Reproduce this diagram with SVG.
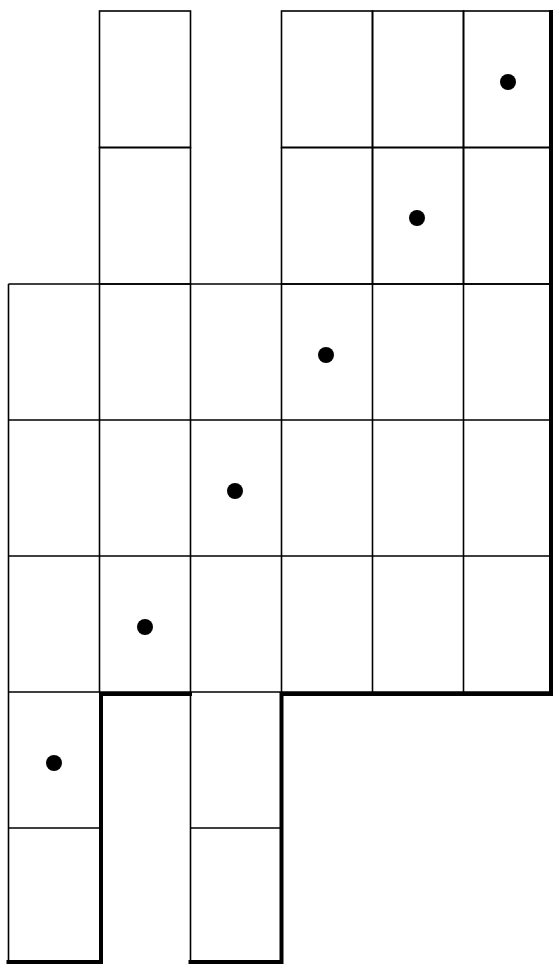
<svg xmlns="http://www.w3.org/2000/svg" width="553" height="965" viewBox="0 0 553 965">
<style>
.c{fill:none;stroke:#000;stroke-width:1.6}
.t{fill:none;stroke:#000;stroke-width:4;stroke-linecap:square}
.m{stroke:#000;stroke-width:2.5;fill:none}
.d{fill:#000}
</style>
<rect width="553" height="965" fill="#fff"/>
<g id="grid">
<rect class="c" x="99.5" y="11" width="91" height="136.5"/>
<rect class="c" x="99.5" y="147.5" width="91" height="136.5"/>
<rect class="c" x="281.5" y="11" width="91" height="136.5"/>
<rect class="c" x="372.5" y="11" width="91" height="136.5"/>
<rect class="c" x="463.5" y="11" width="87.5" height="136.5"/>
<rect class="c" x="281.5" y="147.5" width="91" height="136.5"/>
<rect class="c" x="372.5" y="147.5" width="91" height="136.5"/>
<rect class="c" x="463.5" y="147.5" width="87.5" height="136.5"/>
<path class="c" d="M8.5 284H551M8.5 420H551M8.5 556H551M8.5 692H551M8.5 284V963M99.5 284V692M190.5 284V692M281.5 284V692M372.5 284V692M463.5 284V692"/>
<path class="c" d="M8.5 828H100M190.5 828H281M190.5 692V963"/>
</g>
<g id="outline">
<path class="t" d="M101 694H190M101 694V962M8.5 962H101M190.5 962H281.5M281.5 694V962M281.5 694H551M551 12V694"/>
</g>
<g id="dots">
<circle class="d" cx="508" cy="82" r="8"/>
<circle class="d" cx="417" cy="218" r="8"/>
<circle class="d" cx="326" cy="355" r="8"/>
<circle class="d" cx="235" cy="491" r="8"/>
<circle class="d" cx="145" cy="627" r="8"/>
<circle class="d" cx="54" cy="763" r="8"/>
</g>
</svg>
